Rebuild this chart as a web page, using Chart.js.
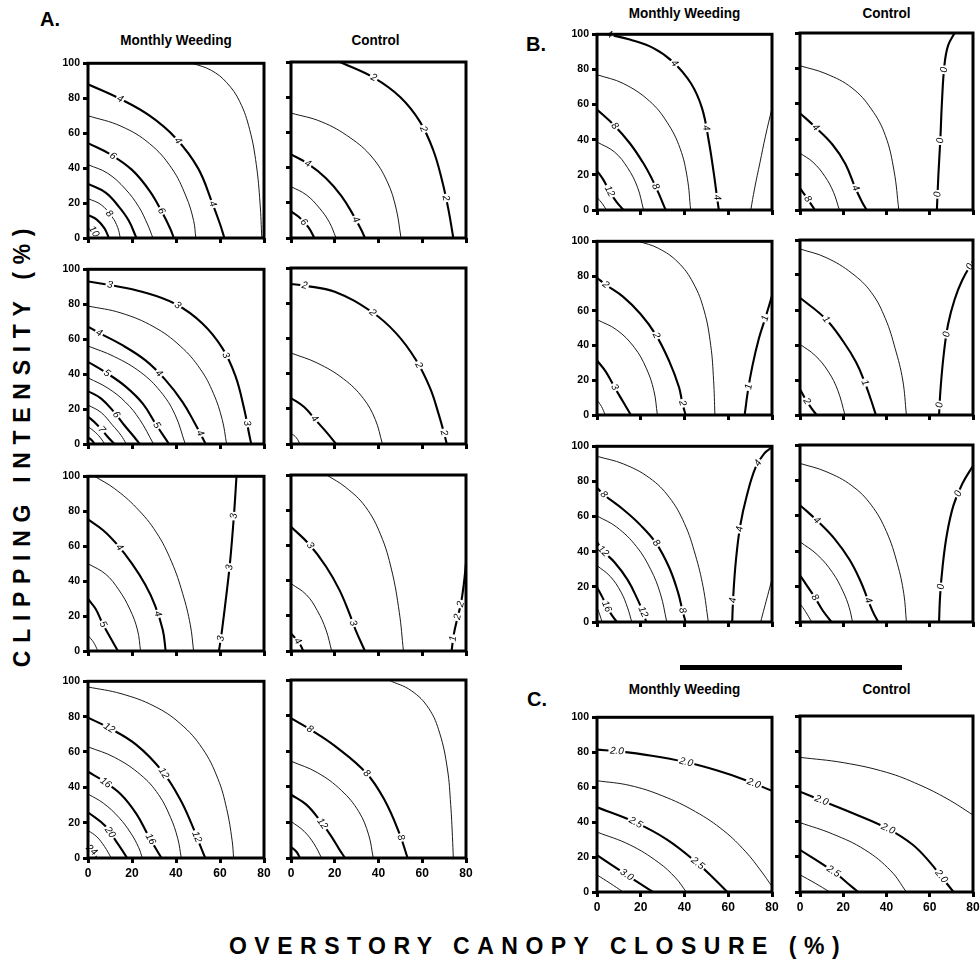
<!DOCTYPE html>
<html>
<head>
<meta charset="utf-8">
<script src="https://cdn.jsdelivr.net/npm/chart.js@4.4.1/dist/chart.umd.min.js"></script>
<style>
  body { margin: 0; background: #fff; width: 980px; height: 974px; overflow: hidden; position: relative; }
  canvas { position: absolute; }
  .ttl { position: absolute; text-align: center; font: bold 15px "Liberation Sans", Arial, sans-serif; line-height: 16px; white-space: nowrap; transform: scaleX(0.9); }
  .let { position: absolute; font: bold 20px "Liberation Sans", Arial, sans-serif; line-height: 20px; }
  .axt { position: absolute; font: bold 23px "Liberation Sans", Arial, sans-serif; white-space: nowrap; transform: translate(-50%, -50%); }
</style>
</head>
<body>
<script>
// contour lines per panel: lv = contour level, pts = [x (canopy %), y (clipping %)]
// A - Monthly Weeding / Control
const mwA1 = [
  { lv: 3, pts: [[47.5,100],[56,96],[63,89],[69,78],[73.5,62],[76.5,42],[78.2,20],[79,0]] },
  { lv: 4, pts: [[0,88],[14,80],[28,70],[40,57],[50,40],[56.5,20],[60,8],[62,0]] },
  { lv: 5, pts: [[0,70],[15,64],[28,54],[38,40],[44.5,24],[48,10],[49,0]] },
  { lv: 6, pts: [[0,54.3],[10,48],[20,39],[28,27],[34,14],[37.5,5],[39,0]] },
  { lv: 7, pts: [[0,42],[9,37],[17,28],[23,18],[27,8],[29.5,0]] },
  { lv: 8, pts: [[0,31],[8,26],[14,18],[18.5,10],[22,0]] },
  { lv: 9, pts: [[0,22.6],[6,19],[11,12],[13.5,6],[14.7,0]] },
  { lv: 10, pts: [[0,13.2],[4,10.5],[7.5,5.5],[9.5,0]] },
  { lv: 11, pts: [[0,5.7],[2.5,4],[4.5,0]] }
];
const mwA1Lab = [['4',14.4,79.2],['4',40.9,55.7],['4',56.5,19.4],['6',9.8,44.3],['6',31.5,14.2],['8',11.4,16],['10',3.8,4.7]];

const ctA1 = [
  { lv: 2, pts: [[22.4,100],[38,91],[50,80],[59,66],[65,50],[69,33],[72,16],[74.2,0]] },
  { lv: 3, pts: [[0,71],[14,66],[27,57],[37,46],[44,32],[48,17],[50.3,0]] },
  { lv: 4, pts: [[0,47.5],[8,42],[16,34],[23,24],[28.5,13],[32,5],[33.8,0]] },
  { lv: 5, pts: [[0,29.2],[7,24.5],[13,17],[17.5,9],[20.6,0]] },
  { lv: 6, pts: [[0,15.1],[4,11.5],[8,6],[10.7,0]] }
];
const ctA1Lab = [['2',37.6,90.6],['2',61.3,62.3],['2',70.4,22.6],['4',6.9,40.6],['4',28.2,9.4],['6',4.1,7]];

const mwA2 = [
  { lv: 3, pts: [[0,93],[10,91],[25,87],[40,80],[52,69],[61,55],[67,39],[71,20],[73.2,6],[74.2,0]] },
  { lv: 3.5, pts: [[0,79],[15,75],[30,67],[42,56],[51,43],[57,29],[61,14],[63,0]] },
  { lv: 4, pts: [[0,67.2],[5,63.6],[15,57],[26,48],[35,37],[43,24],[48.5,12],[53.5,0]] },
  { lv: 4.5, pts: [[0,56.1],[12,50],[24,41],[33,30],[39.5,17],[44.2,0]] },
  { lv: 5, pts: [[0,47],[8,41],[17,33],[25,23],[31,11],[36.8,0]] },
  { lv: 5.5, pts: [[0,37.9],[9,32],[17,24],[23.5,14],[29.8,0]] },
  { lv: 6, pts: [[0,30.3],[6,26],[12,18],[17,10],[21,4],[23.5,0]] },
  { lv: 6.5, pts: [[0,22.3],[6,18],[11,11],[15,5],[17.4,0]] },
  { lv: 7, pts: [[0,15.7],[3,12.5],[6,8.5],[9,4],[12.1,0]] },
  { lv: 7.5, pts: [[0,10],[3.5,6.5],[6,3],[7.6,0]] },
  { lv: 8, pts: [[0,3.8],[1.8,2],[3,0]] }
];
const mwA2Lab = [['3',9.8,90],['3',40.6,79.2],['3',63.3,51.1],['3',72,11.9],['4',5,63.6],['4',32.6,40.9],['4',50.8,6.2],['5',8,39.4],['5',31.1,10.6],['6',12.1,16.1],['7',6,8.1]];

const ctA2 = [
  { lv: 2, pts: [[0,90.9],[6,90],[20,86.5],[37,75],[48,63],[57,48],[63.5,32],[67.5,17],[70,6],[71.2,0]] },
  { lv: 3, pts: [[0,51.7],[12,46],[24,37],[33,26],[38.5,14],[41.8,0]] },
  { lv: 4, pts: [[0,26.1],[6,21],[11,14],[16,7],[20.6,0]] },
  { lv: 5, pts: [[0,6.2],[2.5,3.5],[4.1,0]] }
];
const ctA2Lab = [['2',5.6,86.4],['2',36.9,73.9],['2',59,45.1],['2',69.6,6.2],['4',10.2,13.8]];

const mwA3 = [
  { lv: 3.5, pts: [[3,100],[12,93],[22,82],[31,68],[38,51],[43,33],[46.5,15],[48,0]] },
  { lv: 3, pts: [[67.5,100],[66.3,77],[64.5,50],[62.5,28],[60.5,8],[59.5,0]] },
  { lv: 4, pts: [[0,75.3],[7,69],[13.2,61],[20,50],[26,38],[30.5,26],[34,12],[35.3,0]] },
  { lv: 4.5, pts: [[0,50],[8,44],[14,35],[19,24],[22.5,12],[23.9,0]] },
  { lv: 5, pts: [[0,29.8],[3.5,24],[6.5,16],[10,8],[13.6,0]] },
  { lv: 5.5, pts: [[0,8.9],[2.5,5],[4.5,0]] }
];
const mwA3Lab = [['3',66.3,77.2],['3',64.2,47.8],['3',61.1,7],['4',13.2,58.3],['4',34.1,22.2],['5',6,14.6]];

const ctA3 = [
  { lv: 2.5, pts: [[16.3,100],[25,93],[34,82],[41,66],[46,46],[49.5,22],[51.4,0]] },
  { lv: 3, pts: [[0,70.6],[8.4,60.5],[16,48],[22,35],[26.5,22],[29.5,12],[33.8,0]] },
  { lv: 3.5, pts: [[0,38.3],[7,32],[12,23],[16,12],[18.6,0]] },
  { lv: 4, pts: [[0,9.9],[2.5,6.5],[4.5,3],[5.6,0]] },
  { lv: 2, pts: [[73.4,0],[74.5,10],[76.2,19.4],[77.7,27],[79,38],[80,50]] }
];
const ctA3Lab = [['3',8.4,59.6],['3',27.7,15.6],['4',2.3,4.9],['1',74,7],['2',76.2,19.4],['2',77.7,26.6]];

const mwA4 = [
  { lv: 10, pts: [[0,96.8],[15,93],[30,86],[42,76],[52,62],[59,45],[63,28],[65.5,10],[66.2,0]] },
  { lv: 12, pts: [[0,79.4],[9,74],[22,64],[33.8,49],[42,33],[47.5,18],[51,7],[53.3,0]] },
  { lv: 14, pts: [[0,62.9],[12,57],[24,47],[32,36],[37.5,23],[40.8,11],[42.4,0]] },
  { lv: 16, pts: [[0,48.8],[6.5,44],[15,36],[22,25],[27.3,13],[31,5],[33.4,0]] },
  { lv: 18, pts: [[0,36.2],[7,31],[14,23],[19.5,14],[23,6],[24.7,0]] },
  { lv: 20, pts: [[0,25.9],[8,18],[12.5,10],[15.5,4.5],[17.8,0]] },
  { lv: 22, pts: [[0,15.6],[4,12],[7.5,6.5],[10.6,0]] },
  { lv: 24, pts: [[0,6.2],[2,4],[3.8,0]] }
];
const mwA4Lab = [['12',9.1,72.4],['12',33.8,47.5],['12',49.2,11.8],['16',6.5,40],['16',27.3,9.9],['20',8,12.8],['24',1.2,3.8]];

const ctA4 = [
  { lv: 6, pts: [[44.5,100],[55,94],[63,84],[68,70],[71.5,50],[73,30],[73.8,12],[74.2,0]] },
  { lv: 8, pts: [[0,78.5],[8.4,72.5],[20,63],[34.6,47.5],[43,32],[49.8,13],[53.3,0]] },
  { lv: 10, pts: [[0,54.4],[12,48],[23,38],[31,26],[35.5,13],[37.6,0]] },
  { lv: 12, pts: [[0,35.6],[7,30],[13.3,21],[18.5,12],[22,5],[24.7,0]] },
  { lv: 14, pts: [[0,20.6],[6,15],[10.5,8],[14,0]] },
  { lv: 16, pts: [[0,6.2],[2.5,3.5],[4.1,0]] }
];
const ctA4Lab = [['8',8.4,71.9],['8',34.6,47.5],['8',49.8,11.3],['12',13.3,18.4]];

// B
const mwB1 = [
  { lv: 4, pts: [[5,100],[15,97],[26,92],[35,84],[43,72],[48,58],[51,40],[53.5,20],[55,6],[55.7,0]] },
  { lv: 6, pts: [[0,77],[12,72],[24,62],[32,50],[38,35],[41.3,18],[42.8,0]] },
  { lv: 8, pts: [[0,57.2],[7.6,48.5],[15,38],[21,27],[25,18],[28,10],[31.4,0]] },
  { lv: 10, pts: [[0,38.7],[8,33],[14,24],[18.5,13],[21.3,0]] },
  { lv: 12, pts: [[0,22.3],[3,17],[5.8,10.4],[9,4.5],[12.1,0]] },
  { lv: 14, pts: [[0,7.2],[2.5,3.5],[4.3,0]] },
  { lv: 2, pts: [[70.3,0],[72,12],[74.5,27],[77,42],[80,58]] }
];
const mwB1Lab = [['4',5.3,97.7],['4',34.9,83],['4',50.1,46.8],['4',54.6,7.2],['8',7.6,47.2],['8',26.6,13.2],['12',5.3,10.4]];

const ctB1 = [
  { lv: 0, pts: [[71.5,100],[68.5,93],[66.8,82],[65.6,60],[64.9,40],[64,20],[63.3,0]] },
  { lv: 2, pts: [[0,81.5],[12,77],[24,69],[33,57],[39.5,42],[43.5,22],[45.7,0]] },
  { lv: 4, pts: [[0,54.7],[6.9,47],[15,37],[21,26],[25.4,13],[28.5,5],[30.8,0]] },
  { lv: 6, pts: [[0,32.1],[6,27],[11.5,19],[15.5,10],[18.2,0]] },
  { lv: 8, pts: [[0,12.3],[2.8,7.5],[5,3.5],[6.9,0]] }
];
const ctB1Lab = [['0',66.5,79.2],['0',64.9,39.2],['0',63.1,8.9],['4',6.9,46.2],['4',25.4,12.3],['8',2.8,5.7]];

const mwB2 = [
  { lv: 1.5, pts: [[19,100],[28,96],[37,88],[44,76],[49,60],[52,40],[53.3,20],[53.9,0]] },
  { lv: 2, pts: [[0,79],[4,75],[12,68],[20,58],[27,46],[33,31],[37.5,16],[39,7],[40.5,0]] },
  { lv: 2.5, pts: [[0,54.9],[9,49],[17,39],[22.5,27],[26,14],[27.6,0]] },
  { lv: 3, pts: [[0,31.4],[4,25],[8,16],[12,7.5],[15.5,0]] },
  { lv: 3.5, pts: [[0,8.6],[2,5],[3.8,0]] },
  { lv: 1, pts: [[67.5,0],[69,14],[71,28],[74,44],[77,56],[80,68.6]] }
];
const mwB2Lab = [['2',3.8,74.7],['2',27,45.7],['2',39,6.7],['3',7.6,15.6],['1',69.8,16.2],['1',77.1,55.6]];

const ctB2 = [
  { lv: 0.5, pts: [[0,94.9],[12,90],[24,81],[33,70],[39.5,55],[44,38],[47.5,20],[49.2,0]] },
  { lv: 1, pts: [[0,67],[11.8,55],[20,42],[26,30],[30,18.5],[33,8],[35.1,0]] },
  { lv: 1.5, pts: [[0,40.4],[7,34],[13,25],[17.5,14],[20.8,0]] },
  { lv: 2, pts: [[0,14.7],[2.8,8.5],[5.5,3.5],[7.7,0]] },
  { lv: 0, pts: [[64.3,0],[65,15],[66.5,35],[68.5,52],[71.5,66],[75,77],[80,88]] }
];
const ctB2Lab = [['1',11.8,54.3],['1',30,18.5],['2',2.8,7.6],['0',64.9,5.7],['0',68,46.1],['0',78.5,84.8]];

const mwB3 = [
  { lv: 6, pts: [[0,94.3],[12,90],[24,82],[33,71],[40,56],[45,38],[48.5,20],[50.9,0]] },
  { lv: 8, pts: [[0,76.4],[3,72.6],[12,64],[20,55],[27,44.9],[33,31],[37,17],[39,7],[40.5,0]] },
  { lv: 10, pts: [[0,60.4],[9,54],[18,43],[24.5,30],[29,16],[31.9,0]] },
  { lv: 12, pts: [[0,45.7],[2.3,41],[8,34],[14,24],[18.5,13],[21,5.7],[22.5,0]] },
  { lv: 14, pts: [[0,32.1],[6,26],[11,17],[14,8],[15.9,0]] },
  { lv: 16, pts: [[0,19.8],[2.5,14],[4.5,8.5],[7,3.5],[9.1,0]] },
  { lv: 18, pts: [[0,8.5],[1.3,4],[2.3,0]] },
  { lv: 4, pts: [[61.8,0],[62.3,15],[63.5,35],[65.5,55],[68.5,72],[72.5,88],[76.5,96],[80,99.5]] },
  { lv: 2, pts: [[74.8,0],[76.5,8],[78,15],[80,24.5]] }
];
const mwB3Lab = [['8',3,72.6],['8',27,44.9],['8',39,6.6],['12',2.3,39.6],['12',21,5.7],['16',3.8,8.5],['4',62.2,12.3],['4',65.3,52.8],['4',72.9,91]];

const ctB3 = [
  { lv: 2, pts: [[0,89.6],[12,85],[24,77],[33,66],[40,51],[45,33],[48,16],[49.2,0]] },
  { lv: 4, pts: [[0,66],[7.7,57.5],[16,47],[23,35],[28,23],[31.5,12.3],[34,5],[36.2,0]] },
  { lv: 6, pts: [[0,45.3],[8,38],[15,28],[20,17],[22.8,8],[24.3,0]] },
  { lv: 8, pts: [[0,26.4],[3.5,20],[6.9,13.8],[10.5,6.5],[14.6,0]] },
  { lv: 10, pts: [[0,10.4],[2.5,6],[5.4,0]] },
  { lv: 0, pts: [[64.3,0],[64.8,15],[66,32],[68,50],[71,66],[75,78],[80,88.3]] }
];
const ctB3Lab = [['4',7.7,57.5],['4',31.5,12.3],['8',6.9,13.8],['0',65.8,19.8],['0',73.1,72.6]];

// C
const mwC = [
  { lv: 2, pts: [[0,81.5],[10,80.5],[25,78],[40,74.5],[55,69.5],[68,64],[80,57.9]] },
  { lv: 2.25, pts: [[0,63.7],[15,61],[30,55],[45,46],[58,35],[68,23],[75,12],[80,3.2]] },
  { lv: 2.5, pts: [[0,48.5],[17.3,40],[32,30],[46,16.4],[54,7],[59.6,0]] },
  { lv: 2.75, pts: [[0,34.3],[15,27],[28,17],[36,8],[40.8,0]] },
  { lv: 3, pts: [[0,21.1],[13.6,9.8],[20,4.5],[25.6,0]] },
  { lv: 3.25, pts: [[0,9.8],[6,5],[12,0]] }
];
const mwCLab = [['2.0',9.1,80.7],['2.0',40.8,74.5],['2.0',71.7,62.1],['2.5',17.3,39],['2.5',46,16.4],['3.0',13.6,9.8]];

const ctC = [
  { lv: 1.75, pts: [[0,76.5],[20,73.5],[40,68],[55,61],[68,53],[80,43.8]] },
  { lv: 2, pts: [[0,57],[9.9,52],[25,44.5],[40.7,35.9],[52,27],[60,17],[65.3,8.8],[71,0]] },
  { lv: 2.25, pts: [[0,39.4],[15,33],[30,24],[42,12],[49.2,0]] },
  { lv: 2.5, pts: [[0,24],[15.4,11.7],[22,5],[26.9,0]] },
  { lv: 2.75, pts: [[0,9.8],[7,5],[13.8,0]] }
];
const ctCLab = [['2.0',9.9,51.9],['2.0',40.7,35.9],['2.0',65.3,8.8],['2.5',15.4,11.7]];

const xTicks = [0, 20, 40, 60, 80];
const yTicks = [0, 20, 40, 60, 80, 100];

// panel placement: plot-area rect in page pixels
const panels = [
  { lines: mwA1, labs: mwA1Lab, step: 2, x: 88, y: 62, w: 176, h: 176, xl: false, yl: true },
  { lines: ctA1, labs: ctA1Lab, step: 2, x: 291, y: 62, w: 175, h: 176, xl: false, yl: false },
  { lines: mwA2, labs: mwA2Lab, step: 1, x: 88, y: 268, w: 176, h: 176, xl: false, yl: true },
  { lines: ctA2, labs: ctA2Lab, step: 2, x: 291, y: 268, w: 175, h: 176, xl: false, yl: false },
  { lines: mwA3, labs: mwA3Lab, step: 1, x: 88, y: 475, w: 176, h: 176, xl: false, yl: true },
  { lines: ctA3, labs: ctA3Lab, step: 1, x: 291, y: 475, w: 175, h: 176, xl: false, yl: false },
  { lines: mwA4, labs: mwA4Lab, step: 4, x: 88, y: 680, w: 176, h: 178, xl: true, yl: true },
  { lines: ctA4, labs: ctA4Lab, step: 4, x: 291, y: 680, w: 175, h: 178, xl: true, yl: false },
  { lines: mwB1, labs: mwB1Lab, step: 4, x: 597, y: 33, w: 175, h: 177, xl: false, yl: true },
  { lines: ctB1, labs: ctB1Lab, step: 4, x: 800, y: 33, w: 173, h: 177, xl: false, yl: false },
  { lines: mwB2, labs: mwB2Lab, step: 1, x: 597, y: 240, w: 175, h: 175, xl: false, yl: true },
  { lines: ctB2, labs: ctB2Lab, step: 1, x: 800, y: 240, w: 173, h: 175, xl: false, yl: false },
  { lines: mwB3, labs: mwB3Lab, step: 4, x: 597, y: 445, w: 175, h: 177, xl: false, yl: true },
  { lines: ctB3, labs: ctB3Lab, step: 4, x: 800, y: 445, w: 173, h: 177, xl: false, yl: false },
  { lines: mwC, labs: mwCLab, step: 0.5, x: 597, y: 716, w: 175, h: 176, xl: true, yl: true },
  { lines: ctC, labs: ctCLab, step: 0.5, x: 800, y: 716, w: 173, h: 176, xl: true, yl: false }
];

const texts = [
  ['let', 'A.', 40, 9], ['let', 'B.', 526, 34], ['let', 'C.', 527, 689],
  ['ttl', 'Monthly Weeding', 88, 32, 176], ['ttl', 'Control', 288, 32, 175],
  ['ttl', 'Monthly Weeding', 597, 5, 175], ['ttl', 'Control', 800, 5, 173],
  ['ttl', 'Monthly Weeding', 597, 681, 175], ['ttl', 'Control', 800, 681, 173]
];
texts.forEach(([cls, t, x, y, w]) => {
  const d = document.createElement('div');
  d.className = cls;
  d.textContent = t;
  d.style.left = x + 'px';
  d.style.top = y + 'px';
  if (w) d.style.width = w + 'px';
  document.body.appendChild(d);
});

const yTitle = document.createElement('div');
yTitle.className = 'axt';
yTitle.textContent = 'CLIPPING INTENSITY (%)';
yTitle.style.cssText = 'left:22px;top:444px;letter-spacing:7.7px;transform:translate(-50%,-50%) rotate(-90deg)';
document.body.appendChild(yTitle);

const xTitle = document.createElement('div');
xTitle.className = 'axt';
xTitle.textContent = 'OVERSTORY CANOPY CLOSURE (%)';
xTitle.style.cssText = 'left:538px;top:946px;letter-spacing:7.5px';
document.body.appendChild(xTitle);

const bar = document.createElement('div');
bar.style.cssText = 'position:absolute;left:680px;top:665px;width:222px;height:5px;background:#000';
document.body.appendChild(bar);

// frame around each plot
const frame = {
  id: 'frame',
  afterDraw(chart) {
    const { ctx, chartArea: a } = chart;
    ctx.save();
    ctx.lineWidth = 3;
    ctx.strokeStyle = '#000';
    ctx.strokeRect(a.left, a.top, a.right - a.left, a.bottom - a.top);
    ctx.restore();
  }
};

// contour labels, placed on the nearest line and turned along it
const lineLabels = {
  id: 'lineLabels',
  afterDatasetsDraw(chart, args, opts) {
    const { ctx } = chart;
    const sx = chart.scales.x, sy = chart.scales.y;
    ctx.save();
    ctx.font = 'italic 10px "Liberation Sans", Arial, sans-serif';
    ctx.textAlign = 'center';
    ctx.textBaseline = 'middle';
    (opts.items || []).forEach(([txt, vx, vy]) => {
      const px = sx.getPixelForValue(vx), py = sy.getPixelForValue(vy);
      let best = null;
      chart.data.datasets.forEach((ds, i) => {
        const pts = chart.getDatasetMeta(i).data;
        for (let k = 0; k < pts.length - 1; k++) {
          const a = pts[k], b = pts[k + 1];
          const dx = b.x - a.x, dy = b.y - a.y;
          const l2 = dx * dx + dy * dy;
          let t = l2 ? ((px - a.x) * dx + (py - a.y) * dy) / l2 : 0;
          t = Math.max(0, Math.min(1, t));
          const qx = a.x + t * dx, qy = a.y + t * dy;
          const d = Math.hypot(px - qx, py - qy);
          if (!best || d < best.d) best = { d, qx, qy, ang: Math.atan2(dy, dx) };
        }
      });
      let ang = best.ang;
      if (ang > Math.PI / 2) ang -= Math.PI;
      if (ang < -Math.PI / 2) ang += Math.PI;
      ctx.save();
      ctx.translate(best.qx, best.qy);
      ctx.rotate(ang);
      const tw = ctx.measureText(txt).width;
      ctx.fillStyle = '#fff';
      ctx.fillRect(-tw / 2 - 1.5, -4.5, tw + 3, 9);
      ctx.fillStyle = '#000';
      ctx.fillText(txt, 0, 0);
      ctx.restore();
    });
    ctx.restore();
  }
};

const PADL = 44, PADT = 8, PADR = 10, PADB = 26;
const tickFont = '"Liberation Sans", Arial, sans-serif';

panels.forEach(p => {
  const cv = document.createElement('canvas');
  const W = p.w + PADL + PADR, H = p.h + PADT + PADB;
  cv.width = W; cv.height = H;
  cv.style.width = W + 'px'; cv.style.height = H + 'px';
  cv.style.left = (p.x - PADL) + 'px';
  cv.style.top = (p.y - PADT) + 'px';
  document.body.appendChild(cv);

  const datasets = p.lines.map(l => ({
    data: l.pts.map(([x, y]) => ({ x, y })),
    showLine: true,
    borderColor: '#000',
    borderWidth: Number.isInteger(l.lv / p.step) ? 2.1 : 0.9,
    pointRadius: 0,
    tension: 0.4,
    fill: false,
    clip: 0
  }));

  new Chart(cv, {
    type: 'scatter',
    data: { datasets },
    options: {
      responsive: false,
      animation: false,
      devicePixelRatio: 1,
      events: [],
      layout: { padding: { top: PADT, right: PADR, left: 0, bottom: 0 } },
      plugins: { legend: { display: false }, tooltip: { enabled: false }, lineLabels: { items: p.labs } },
      scales: {
        x: {
          type: 'linear', min: 0, max: 80,
          afterBuildTicks: s => { s.ticks = xTicks.map(v => ({ value: v })); },
          afterFit: s => { s.height = PADB; },
          border: { display: false },
          grid: { drawOnChartArea: false, drawTicks: true, tickLength: 5, tickWidth: 3, tickColor: '#000' },
          ticks: { display: p.xl, color: '#000', padding: 3, maxRotation: 0, font: { family: tickFont, size: 12, weight: 'bold' } }
        },
        y: {
          type: 'linear', min: 0, max: 100,
          afterBuildTicks: s => { s.ticks = yTicks.map(v => ({ value: v })); },
          afterFit: s => { s.width = PADL; },
          border: { display: false },
          grid: { drawOnChartArea: false, drawTicks: true, tickLength: 5, tickWidth: 3, tickColor: '#000' },
          ticks: { display: p.yl, color: '#000', padding: 3, font: { family: tickFont, size: 10.5, weight: 'bold' } }
        }
      }
    },
    plugins: [lineLabels, frame]
  });
});
</script>
</body>
</html>
